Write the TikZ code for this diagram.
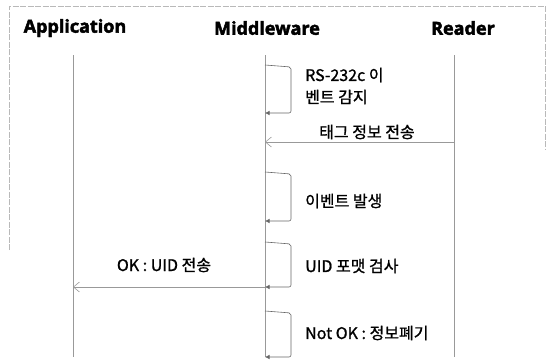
\documentclass[tikz,border=0pt]{standalone}
\usepackage{fontspec}
\setmainfont{Open Sans}
\newfontfamily\hdrfont{Open Sans}[FakeBold=2.6]
\newfontfamily\krfont{Noto Sans CJK KR}[FakeBold=1.1]
\usetikzlibrary{arrows.meta}

\begin{document}
\begin{tikzpicture}[x=1pt,y=-1pt,
  frame/.style={gray!55,line width=0.5pt,dash pattern=on 6pt off 1.5pt},
  lifeline/.style={gray!80,line width=0.6pt},
  selfloop/.style={gray!80!black,line width=0.6pt,rounded corners=2pt,-{Latex[length=4.5pt,width=4.5pt]}},
  msg/.style={gray!80,line width=0.6pt,-{Straight Barb[length=6pt,width=10pt]}},
  hdr/.style={font=\hdrfont\bfseries\fontsize{18}{21}\selectfont},
  lbl/.style={font=\krfont\fontsize{16}{22}\selectfont,align=left,inner sep=0pt}]

  \useasboundingbox (0,0) rectangle (547,362);

  %% ---- Frame (scanned, partly faded) ----
  \draw[frame] (9,250) -- (9,6) -- (545,6) -- (545,150);

  %% ---- Headers and lifelines ----
  \node[hdr] (app) at (75,28) {Application};
  \node[hdr] (mid) at (267,28) {Middleware};
  \node[hdr] (rdr) at (463,28) {Reader};

  \foreach \name/\x in {app/73, mid/265, rdr/454} {
    \coordinate (\name top) at (\x,55);
    \coordinate (\name bot) at (\x,357);
    \draw[lifeline] (\name top) -- (\name bot);
  }

  %% ---- Self messages on Middleware ----
  \foreach \i/\ya/\yb in {1/65/113, 2/172/221, 3/242/287, 4/311/357} {
    \coordinate (s\i a) at (265,\ya);
    \coordinate (s\i b) at (265,\yb);
    \draw[selfloop] (s\i a) -- ++(26,2) |- (s\i b);
  }
  \node[lbl,anchor=west] (l1) at (305,86) {RS-232c 이\\벤트 감지};
  \node[lbl,anchor=west] (l2) at (305,201) {이벤트 발생};
  \node[lbl,anchor=west] (l3) at (305,266) {UID 포맷 검사};
  \node[lbl,anchor=west] (l4) at (305,333) {Not OK : 정보폐기};

  %% ---- Messages between lifelines ----
  \coordinate (tagR) at (454,142);
  \coordinate (tagM) at (265,142);
  \draw[msg] (tagR) -- (tagM);
  \node[lbl] (tag) at (367,132) {태그 정보 전송};

  \coordinate (okM) at (265,287);
  \coordinate (okA) at (73,287);
  \draw[msg] (okM) -- (okA);
  \node[lbl] (ok) at (164,265) {OK : UID 전송};

\end{tikzpicture}
\end{document}
